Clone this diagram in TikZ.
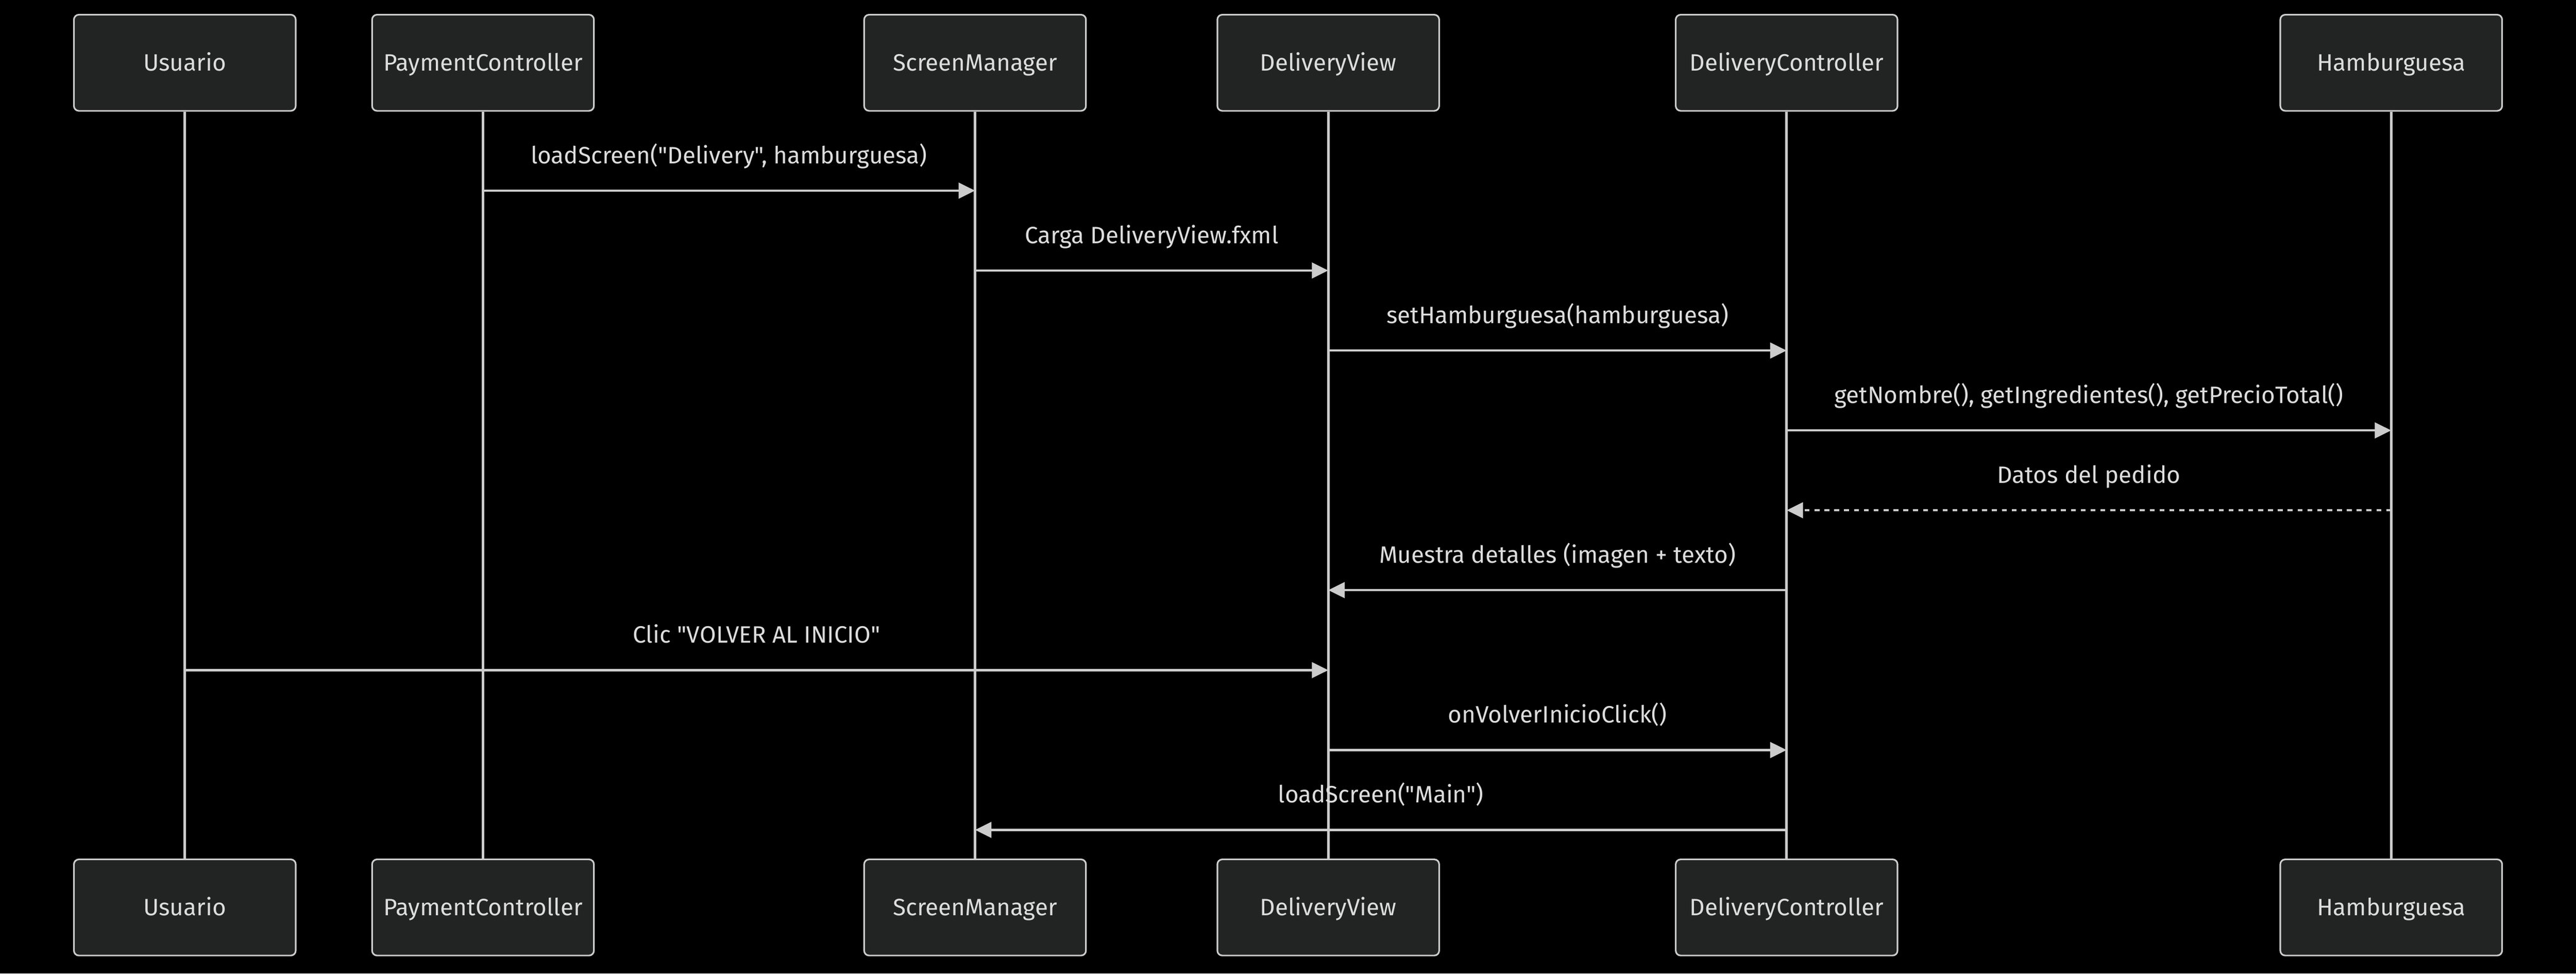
\documentclass[tikz,border=0pt]{standalone}
\usepackage{fontspec}
\setmainfont{Fira Sans}[Ligatures=TeXOff]
\usetikzlibrary{arrows.meta}
\definecolor{boxfill}{RGB}{34,35,35}
\definecolor{linegray}{RGB}{204,204,204}
\definecolor{textgray}{RGB}{221,221,221}
\tikzset{
	actor/.style={draw=linegray, fill=boxfill, line width=1pt, rounded corners=3pt, minimum width=135pt, minimum height=58.5pt, inner sep=0pt, text=textgray, font=\fontsize{14.4}{16}\selectfont, text height=10pt, text depth=0pt},
	life/.style={draw=linegray, line width=1.5pt},
	msg/.style={draw=linegray, line width=1.4pt, -{Triangle[length=10pt,width=9.5pt]}},
	reply/.style={msg, dash pattern=on 3pt off 3pt},
	lbl/.style={text=textgray, font=\fontsize{14.4}{16}\selectfont, anchor=base, yshift=16.5pt}
}

\begin{document}
\begin{tikzpicture}[x=1pt, y=-1pt]
			%%%%% START %%%%%
			
			\fill[black] (0, 0) rectangle (1568, 592.4);
			\useasboundingbox (0, 0) rectangle (1568, 592.4);
			
			\node[actor] (usr) at (112.5, 38.2) {Usuario};
			\node[actor] (pay) at (294, 38.2) {PaymentController};
			\node[actor] (scr) at (593.5, 38.2) {ScreenManager};
			\node[actor] (dv) at (808.5, 38.2) {DeliveryView};
			\node[actor] (dc) at (1087.5, 38.2) {DeliveryController};
			\node[actor] (ham) at (1455.5, 38.2) {Hamburguesa};
			
			\node[actor] (usrB) at (112.5, 552.2) {Usuario};
			\node[actor] (payB) at (294, 552.2) {PaymentController};
			\node[actor] (scrB) at (593.5, 552.2) {ScreenManager};
			\node[actor] (dvB) at (808.5, 552.2) {DeliveryView};
			\node[actor] (dcB) at (1087.5, 552.2) {DeliveryController};
			\node[actor] (hamB) at (1455.5, 552.2) {Hamburguesa};
			
			\draw[life] (usr) -- (usrB);
			\draw[life] (pay) -- (payB);
			\draw[life] (scr) -- (scrB);
			\draw[life] (dv) -- (dvB);
			\draw[life] (dc) -- (dcB);
			\draw[life] (ham) -- (hamB);
			
			\coordinate (m1) at (0, 116);
			\coordinate (m2) at (0, 164.6);
			\coordinate (m3) at (0, 213.3);
			\coordinate (m4) at (0, 261.9);
			\coordinate (m5) at (0, 310.5);
			\coordinate (m6) at (0, 359.1);
			\coordinate (m7) at (0, 407.8);
			\coordinate (m8) at (0, 456.4);
			\coordinate (m9) at (0, 505);
			
			\draw[msg] (pay |- m1) -- node[lbl] {loadScreen("Delivery", hamburguesa)} (scr |- m1);
			\draw[msg] (scr |- m2) -- node[lbl] {Carga DeliveryView.fxml} (dv |- m2);
			\draw[msg] (dv |- m3) -- node[lbl] {setHamburguesa(hamburguesa)} (dc |- m3);
			\draw[msg] (dc |- m4) -- node[lbl] {getNombre(), getIngredientes(), getPrecioTotal()} (ham |- m4);
			\draw[reply] (ham |- m5) -- node[lbl] {Datos del pedido} (dc |- m5);
			\draw[msg] (dc |- m6) -- node[lbl] {Muestra detalles (imagen + texto)} (dv |- m6);
			\draw[msg] (usr |- m7) -- node[lbl] {Clic "VOLVER AL INICIO"} (dv |- m7);
			\draw[msg] (dv |- m8) -- node[lbl] {onVolverInicioClick()} (dc |- m8);
			\draw[msg] (dc |- m9) -- node[lbl] {loadScreen("Main")} (scr |- m9);
			
			%%%%% END %%%%%
\end{tikzpicture}
\end{document}
